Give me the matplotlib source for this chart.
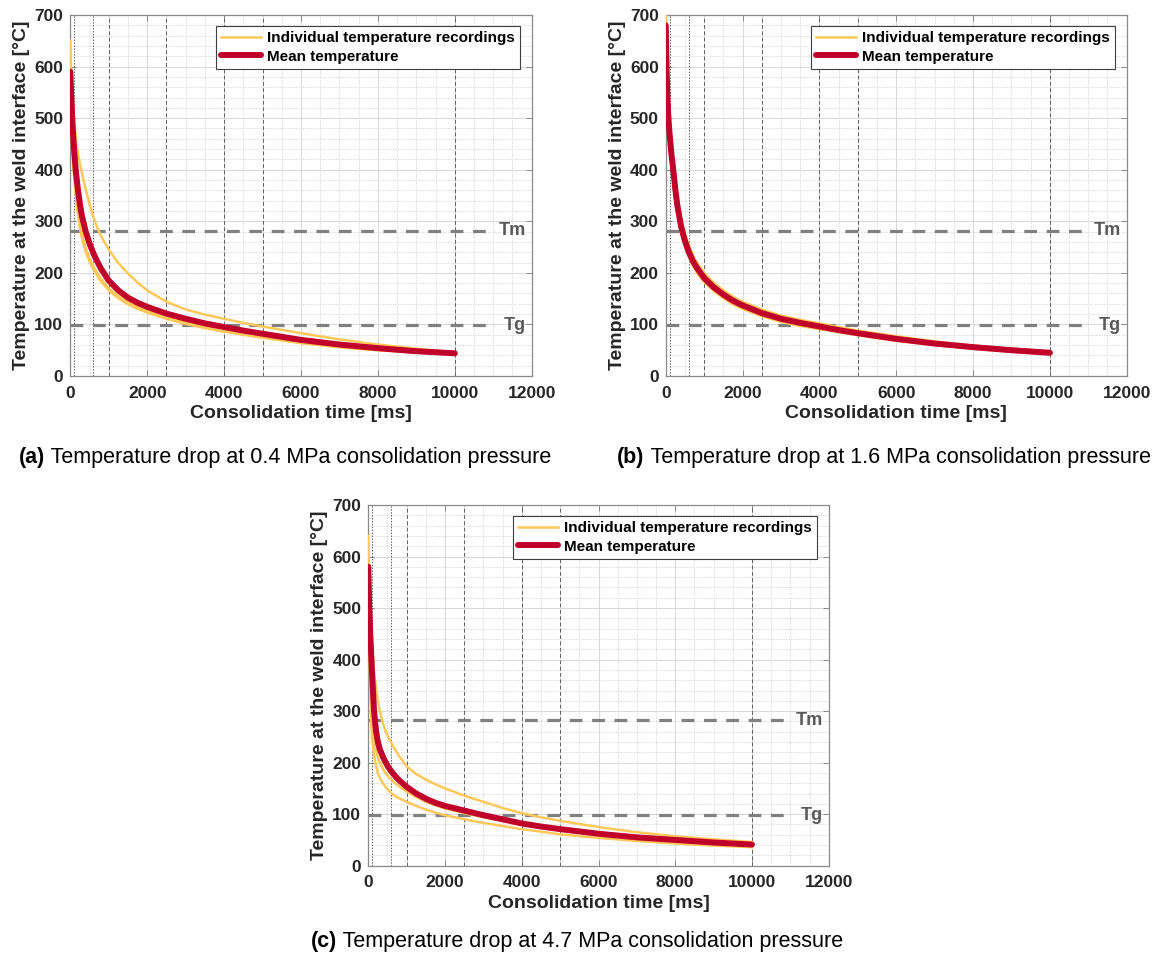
import numpy as np
import matplotlib
matplotlib.use("Agg")
import matplotlib.pyplot as plt
from matplotlib.ticker import MultipleLocator

plt.rcParams['font.family'] = ['Liberation Sans', 'DejaVu Sans']

# sample times [ms]
t = [0, 25, 50, 75, 100, 150, 200, 250, 300, 400, 500, 600, 700, 800, 1000,
     1250, 1500, 1750, 2000, 2500, 3000, 3500, 4000, 4500, 5000, 6000, 7000,
     8000, 9000, 10000]

# (a) 0.4 MPa
a_runs = [
    [650, 590, 545, 515, 492, 458, 432, 412, 394, 362, 333, 308, 288, 271, 245,
     219, 199, 181, 166, 144, 129, 119, 111, 103, 96, 83, 71, 61, 53, 46],
    [610, 530, 470, 430, 400, 355, 322, 296, 276, 248, 228, 212, 199, 188, 170,
     155, 143, 134, 126, 114, 104, 96, 89, 82, 76, 65, 57, 51, 47, 44],
    [600, 520, 460, 420, 390, 346, 313, 288, 268, 241, 222, 207, 194, 183, 166,
     151, 139, 130, 123, 111, 101, 93, 86, 80, 74, 64, 56, 50, 46, 43],
    [500, 470, 440, 410, 385, 348, 318, 293, 273, 245, 225, 210, 197, 186, 168,
     153, 141, 132, 124, 112, 102, 94, 87, 81, 75, 64, 56, 50, 46, 43],
]
a_mean = [590, 540, 500, 465, 437, 393, 360, 333, 311, 280, 257, 238, 222, 208, 185,
          166, 152, 142, 134, 121, 111, 102, 95, 88, 82, 70, 61, 54, 48, 44]

# (b) 1.6 MPa
b_runs = [
    [720, 640, 570, 530, 500, 455, 418, 385, 350, 305, 276, 254, 236, 222, 200,
     181, 166, 154, 144, 129, 117, 109, 102, 95, 88, 77, 67, 59, 53, 48],
    [690, 605, 540, 505, 480, 438, 405, 368, 338, 296, 267, 246, 229, 215, 194,
     176, 161, 149, 140, 125, 113, 105, 98, 91, 85, 74, 65, 57, 51, 46],
    [660, 580, 520, 486, 460, 420, 388, 353, 323, 283, 256, 235, 219, 206, 185,
     168, 154, 142, 133, 119, 108, 100, 93, 87, 81, 70, 61, 54, 48, 44],
    [650, 570, 512, 478, 452, 413, 381, 347, 318, 278, 251, 231, 215, 202, 182,
     165, 151, 139, 130, 116, 105, 97, 91, 85, 79, 68, 60, 53, 47, 43],
]
b_mean = [680, 590, 530, 495, 470, 430, 398, 362, 332, 290, 262, 241, 224, 211, 190,
          172, 158, 146, 137, 122, 111, 103, 96, 89, 83, 72, 63, 56, 50, 45]

# (c) 4.7 MPa
c_runs = [
    [640, 560, 500, 455, 420, 375, 345, 320, 300, 272, 252, 238, 225, 213, 193,
     178, 167, 158, 150, 136, 124, 112, 102, 94, 87, 75, 65, 57, 51, 46],
    [600, 480, 400, 340, 300, 250, 225, 210, 200, 185, 175, 167, 160, 154, 144,
     133, 124, 117, 111, 102, 94, 87, 80, 74, 69, 60, 53, 48, 43, 40],
    [560, 430, 340, 280, 245, 215, 195, 180, 170, 158, 148, 141, 135, 131, 124,
     116, 109, 103, 98, 90, 83, 77, 71, 66, 61, 54, 48, 43, 39, 36],
]
c_mean = [580, 500, 450, 410, 370, 300, 262, 240, 226, 208, 194, 183, 174, 166, 153,
          140, 130, 122, 116, 107, 98, 90, 82, 76, 71, 62, 55, 50, 45, 41]

Tm = 282
Tg = 98
marks_dotted = [100, 600]
marks_dashed = [1000, 2500, 4000, 5000, 10000]

captions = [
    ("(a)", "Temperature drop at 0.4 MPa consolidation pressure"),
    ("(b)", "Temperature drop at 1.6 MPa consolidation pressure"),
    ("(c)", "Temperature drop at 4.7 MPa consolidation pressure"),
]

YELLOW = '#FFC85A'
RED = '#C0002A'
SPINE = '#8a8a8a'
TXT = '#262626'

fig = plt.figure(figsize=(11.55, 9.58), dpi=100)

W, H = 1155, 958
# axes boxes in pixels: left, top, right, bottom
boxes = [(70.3, 15, 531.7, 376), (665.7, 15, 1126.7, 376), (368.3, 505, 828.7, 865.7)]
cap_pos = [(285, 458), (884, 458), (577, 941)]
data = [(a_runs, a_mean), (b_runs, b_mean), (c_runs, c_mean)]


def draw_panel(ax, runs, mean):
    ax.set_xlim(0, 12000)
    ax.set_ylim(0, 700)
    ax.xaxis.set_major_locator(MultipleLocator(2000))
    ax.yaxis.set_major_locator(MultipleLocator(100))
    ax.xaxis.set_minor_locator(MultipleLocator(500))
    ax.yaxis.set_minor_locator(MultipleLocator(20))
    ax.grid(True, which='major', color='#d8d8d8', lw=0.7, ls='-')
    ax.grid(True, which='minor', color='#d4d4d4', lw=0.6, ls=(0, (1.5, 1.5)))
    ax.set_axisbelow(True)
    ax.tick_params(which='major', direction='in', top=True, right=True,
                   length=4, width=0.7, color=SPINE, labelsize=12.5,
                   labelcolor=TXT, pad=5)
    ax.tick_params(axis='x', which='major', pad=7)
    ax.tick_params(which='minor', length=0, top=True, right=True)
    for lab in ax.get_xticklabels() + ax.get_yticklabels():
        lab.set_fontweight('bold')
    for s in ax.spines.values():
        s.set_color(SPINE)
        s.set_linewidth(0.9)

    for x in marks_dotted:
        ax.axvline(x, color='#606060', lw=0.7, ls=(0, (1.5, 1.5)), zorder=1)
    for x in marks_dashed:
        ax.axvline(x, color='#606060', lw=0.7, ls=(0, (4, 2.5)), zorder=1)

    for T, name in [(Tm, 'Tm'), (Tg, 'Tg')]:
        ax.hlines(T, 0, 11050, color='#808080', lw=2.3, linestyles=(0, (4, 3)), zorder=2)
        ax.text(11850, T, name, ha='right', va='center', fontsize=13,
                fontweight='bold', color='#595959')

    for i, r in enumerate(runs):
        ax.plot(t, r, color=YELLOW, lw=1.8, zorder=3,
                label='Individual temperature recordings' if i == 0 else None)
    ax.plot(t, mean, color=RED, lw=4.3, zorder=4, solid_capstyle='round',
            label='Mean temperature')

    ax.set_xlabel('Consolidation time [ms]', fontsize=14, fontweight='bold',
                  color=TXT, labelpad=3)
    ax.set_ylabel('Temperature at the weld interface [°C]', fontsize=14,
                  fontweight='bold', color=TXT, labelpad=3)
    leg = ax.legend(loc='upper right', bbox_to_anchor=(0.9746, 0.970), fontsize=11,
                    frameon=True, fancybox=False, edgecolor='#404040',
                    framealpha=1, handlelength=2.6, handletextpad=0.4,
                    borderpad=0.35, labelspacing=0.3, borderaxespad=0)
    leg.get_frame().set_linewidth(0.8)
    for txt in leg.get_texts():
        txt.set_fontweight('bold')
        txt.set_color('#000000')


for (l, tp, r, b), (runs, mean) in zip(boxes, data):
    ax = fig.add_axes([l / W, 1 - b / H, (r - l) / W, (b - tp) / H])
    draw_panel(ax, runs, mean)

# sub-captions: bold tag followed by plain text, centred as a unit
renderer = fig.canvas.get_renderer()
for (tag, rest), (cx, cy) in zip(captions, cap_pos):
    t1 = fig.text(cx / W, 1 - cy / H, tag, fontsize=15.5, fontweight='bold',
                  ha='left', va='center', color='#000000')
    t2 = fig.text(0, 0, ' ' + rest, fontsize=15.5, ha='left', va='center',
                  color='#000000')
    w1 = t1.get_window_extent(renderer).width
    w2 = t2.get_window_extent(renderer).width
    x0 = cx - (w1 + w2) / 2
    t1.set_x(x0 / W)
    t2.set_position(((x0 + w1) / W, 1 - cy / H))

fig.savefig('out.png', dpi=100)
